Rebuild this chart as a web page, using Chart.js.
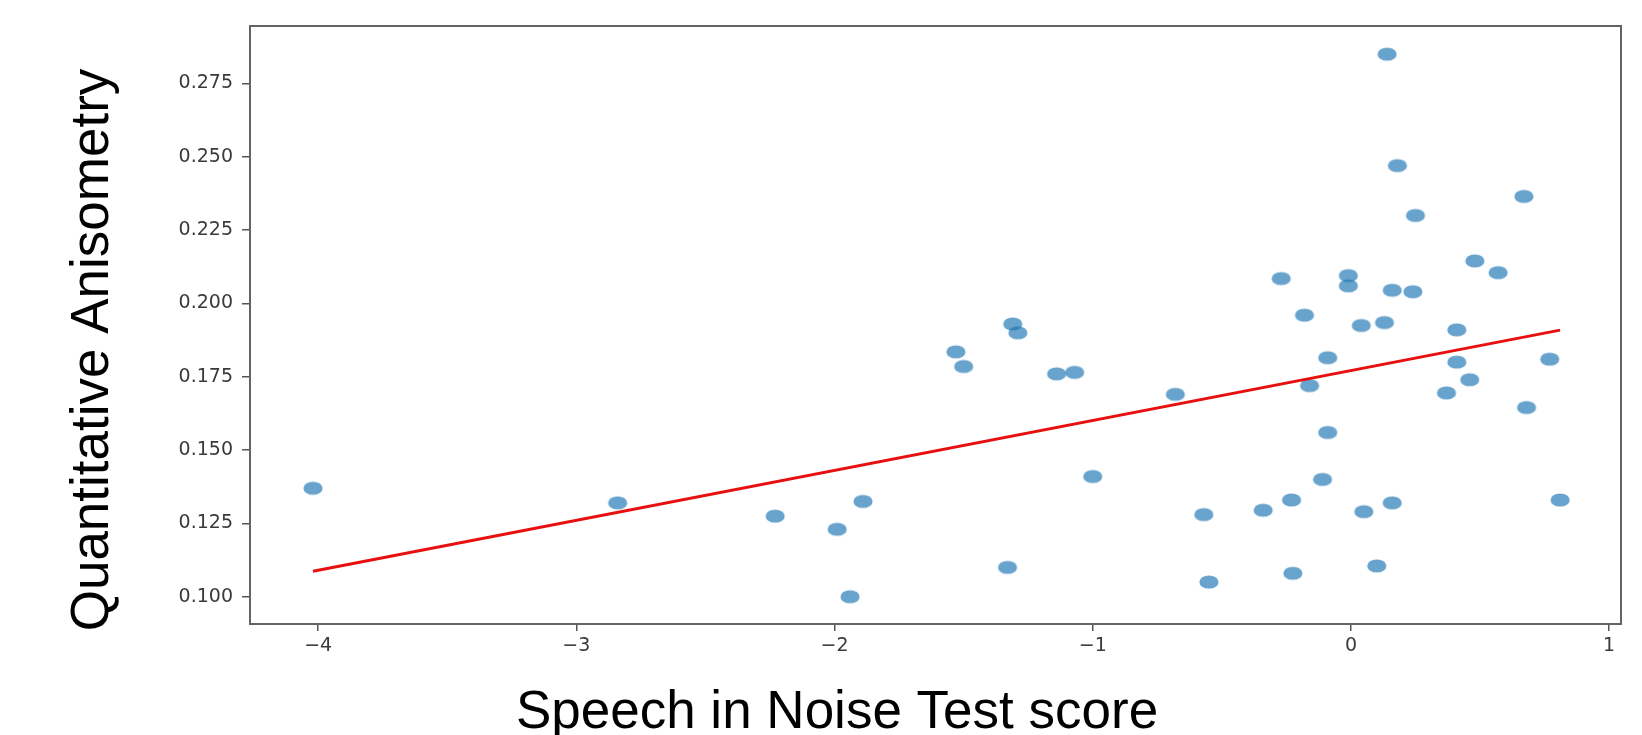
<!DOCTYPE html>
<html>
<head>
<meta charset="utf-8">
<script src="https://cdn.jsdelivr.net/npm/chart.js@4.4.1/dist/chart.umd.min.js"></script>
<style>
  body { margin: 0; background: #fff; }
</style>
</head>
<body>
<canvas id="myChart" width="1642" height="735"></canvas>
<script>
// speech in noise score vs anisometry, one point per subject
const scoreX = [
  -4.02, -2.84, -2.23, -1.99, -1.94, -1.89, -1.53, -1.50, -1.33, -1.31, -1.29, -1.14,
  -1.07, -1.00, -0.68, -0.57, -0.55, -0.34, -0.27, -0.23, -0.225, -0.18, -0.16, -0.11,
  -0.09, -0.09, -0.01, -0.01, 0.04, 0.05, 0.10, 0.13, 0.14, 0.16, 0.16, 0.18,
  0.24, 0.25, 0.37, 0.41, 0.41, 0.46, 0.48, 0.57, 0.67, 0.68, 0.77, 0.81
];
const anisoY = [
  0.137, 0.132, 0.1275, 0.123, 0.100, 0.1325, 0.1835, 0.1785, 0.110, 0.193, 0.190, 0.176,
  0.1765, 0.141, 0.169, 0.128, 0.105, 0.1295, 0.2085, 0.133, 0.108, 0.196, 0.172, 0.140,
  0.1815, 0.156, 0.2095, 0.206, 0.1925, 0.129, 0.1105, 0.1935, 0.285, 0.2045, 0.132, 0.247,
  0.204, 0.230, 0.1695, 0.191, 0.180, 0.174, 0.2145, 0.2105, 0.2365, 0.1645, 0.181, 0.133
];

// regression line end points
const fitX = [-4.02, 0.81];
const fitY = [0.1087, 0.1909];

const xTicks = [-4, -3, -2, -1, 0, 1];
const yTicks = [0.100, 0.125, 0.150, 0.175, 0.200, 0.225, 0.250, 0.275];

const xLabel = 'Speech in Noise Test score';
const yLabel = 'Quantitative Anisometry';

// ellipse marker, the dots in the picture are a bit wider than tall
const dot = document.createElement('canvas');
dot.width = 22;
dot.height = 16;
const dctx = dot.getContext('2d');
dctx.fillStyle = 'rgba(31,119,180,0.68)';
dctx.beginPath();
dctx.ellipse(11, 8, 9.6, 6.6, 0, 0, Math.PI * 2);
dctx.fill();

const points = scoreX.map((x, i) => ({ x: x, y: anisoY[i] }));
const fitLine = fitX.map((x, i) => ({ x: x, y: fitY[i] }));

const frameAndTitles = {
  id: 'frameAndTitles',
  afterDraw(chart) {
    const ctx = chart.ctx;
    const a = chart.chartArea;
    ctx.save();
    ctx.strokeStyle = '#636363';
    ctx.lineWidth = 2;
    ctx.strokeRect(a.left, a.top, a.right - a.left, a.bottom - a.top);

    ctx.fillStyle = '#000';
    ctx.font = '53px "Liberation Sans", Arial, sans-serif';
    ctx.textAlign = 'center';
    ctx.textBaseline = 'alphabetic';
    ctx.fillText(xLabel, 837, 728);

    ctx.translate(108, 350);
    ctx.rotate(-Math.PI / 2);
    ctx.fillText(yLabel, 0, 0);
    ctx.restore();
  }
};

const tickFont = { family: 'DejaVu Sans', size: 19 };

new Chart(document.getElementById('myChart'), {
  type: 'scatter',
  data: {
    datasets: [
      {
        type: 'line',
        data: fitLine,
        borderColor: '#e8100f',
        borderWidth: 3,
        pointRadius: 0,
        fill: false,
        order: 0
      },
      {
        data: points,
        pointStyle: dot,
        pointRadius: 9,
        order: 1
      }
    ]
  },
  options: {
    responsive: false,
    animation: false,
    layout: { padding: { top: 26, right: 21, left: 0, bottom: 0 } },
    plugins: { legend: { display: false }, tooltip: { enabled: false } },
    scales: {
      x: {
        type: 'linear',
        min: -4.264,
        max: 1.046,
        afterBuildTicks: s => { s.ticks = xTicks.map(v => ({ value: v })); },
        afterFit: s => { s.height = 111; },
        grid: { drawOnChartArea: false, tickLength: 7, color: '#555', lineWidth: 1.5 },
        border: { color: '#636363', width: 2 },
        ticks: {
          font: tickFont,
          color: '#3a3a3a',
          padding: 4,
          maxRotation: 0,
          callback: v => (v < 0 ? '\u2212' + Math.abs(v) : String(v))
        }
      },
      y: {
        type: 'linear',
        min: 0.0907,
        max: 0.2946,
        afterBuildTicks: s => { s.ticks = yTicks.map(v => ({ value: v })); },
        afterFit: s => { s.width = 250; },
        grid: { drawOnChartArea: false, tickLength: 8, color: '#555', lineWidth: 1.5 },
        border: { color: '#636363', width: 2 },
        ticks: {
          font: tickFont,
          color: '#3a3a3a',
          padding: 9,
          callback: v => v.toFixed(3)
        }
      }
    }
  },
  plugins: [frameAndTitles]
});
</script>
</body>
</html>
